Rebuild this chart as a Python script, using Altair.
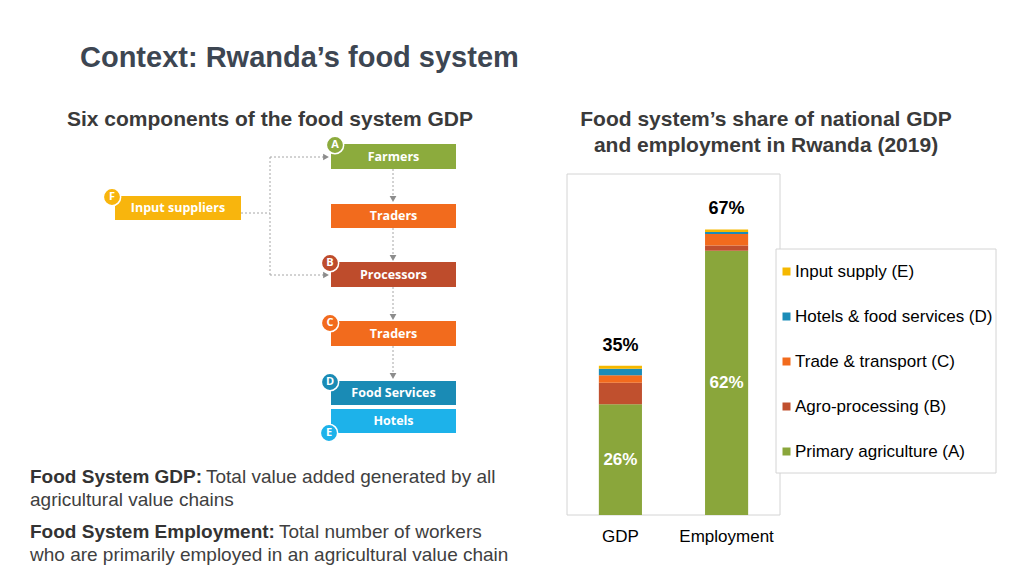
import altair as alt
import pandas as pd

# ---------------- data ----------------
categories = ["GDP", "Employment"]
components = ["Primary agriculture (A)", "Agro-processing (B)", "Trade & transport (C)",
              "Hotels & food services (D)", "Input supply (E)"]
gdp_values = [26.0, 5.0, 1.8, 1.5, 0.7]
employment_values = [62.0, 1.2, 2.7, 0.5, 0.6]
total_labels = ["35%", "67%"]
primary_labels = ["26%", "62%"]
component_colors = ["#8aa63b", "#c0502e", "#f26b1d", "#1b8cb8", "#f5b800"]

flow_names = ["Farmers", "Traders", "Processors", "Traders", "Food Services", "Hotels", "Input suppliers"]
flow_letters = ["A", "", "B", "C", "D", "E", "F"]
flow_colors = ["#8cab3d", "#f26b1d", "#be4c2c", "#f26b1d", "#1a8bb5", "#1db2ea", "#f8b50d"]

title_text = "Context: Rwanda\u2019s food system"
left_heading = "Six components of the food system GDP"
right_heading = ["Food system\u2019s share of national GDP", "and employment in Rwanda (2019)"]
def_bold = ["Food System GDP:", "Food System Employment:"]
def_rest = ["Total value added generated by all", "Total number of workers"]
def_cont = ["agricultural value chains", "who are primarily employed in an agricultural value chain"]

# ---------------- layout (page pixel coordinates) ----------------
XS = alt.Scale(domain=[8, 1016], range=[0, 1008])
YS = alt.Scale(domain=[8, 568], range=[0, 560])
FONT = "Liberation Sans"

def px(f):
    return alt.X(f, type="quantitative", scale=XS, axis=None)

def py(f):
    return alt.Y(f, type="quantitative", scale=YS, axis=None)

box_x0 = [331, 331, 331, 331, 331, 331, 115]
box_x1 = [456, 456, 456, 456, 456, 456, 241]
box_y0 = [144, 204, 262, 321, 381, 409, 196]
box_y1 = [169, 228, 287, 346, 405, 433, 220]
circ_x = [335, None, 330, 330, 330, 329, 112]
circ_y = [145, None, 263, 323, 382, 433, 197]

boxes = pd.DataFrame({"name": flow_names, "x0": box_x0, "x1": box_x1, "y0": box_y0,
                      "y1": box_y1, "c": flow_colors})
boxes["xm"] = (boxes.x0 + boxes.x1) / 2
boxes["ym"] = (boxes.y0 + boxes.y1) / 2

box_layer = alt.Chart(boxes).mark_rect().encode(
    x=px("x0"), x2="x1", y=py("y0"), y2="y1", color=alt.Color("c:N", scale=None))
box_text = alt.Chart(boxes).mark_text(font="Open Sans", fontWeight="bold", fontSize=12.5,
                                      color="white", baseline="middle").encode(
    x=px("xm"), y=py("ym"), text="name:N")

circ = pd.DataFrame({"l": flow_letters, "x": circ_x, "y": circ_y, "c": flow_colors}).dropna()
circ_layer = alt.Chart(circ).mark_point(shape="circle", filled=True, size=300, stroke="white",
                                        strokeWidth=1.5, opacity=1).encode(
    x=px("x"), y=py("y"), fill=alt.Fill("c:N", scale=None))
circ_text = alt.Chart(circ).mark_text(font="Open Sans", fontWeight="bold", fontSize=11,
                                      color="white", baseline="middle").encode(
    x=px("x"), y=py("y"), text="l:N")

# connectors
rules = pd.DataFrame({
    "x0": [393, 393, 393, 393, 241, 270, 270, 270],
    "x1": [393, 393, 393, 393, 270, 270, 324, 324],
    "y0": [169, 228, 287, 346, 213, 157, 157, 275],
    "y1": [198, 257, 316, 375, 213, 275, 157, 275],
})
rule_layer = alt.Chart(rules).mark_rule(color="#a6a6a6", strokeDash=[2, 2], strokeWidth=1).encode(
    x=px("x0"), x2="x1", y=py("y0"), y2="y1")
down_arrows = alt.Chart(pd.DataFrame({"x": [393, 393, 393, 393], "y": [199, 258, 317, 376]})).mark_point(
    shape="triangle-down", filled=True, size=45, color="#8c8c8c", opacity=1).encode(x=px("x"), y=py("y"))
right_arrows = alt.Chart(pd.DataFrame({"x": [326, 326], "y": [157, 275]})).mark_point(
    shape="triangle-right", filled=True, size=45, color="#8c8c8c", opacity=1).encode(x=px("x"), y=py("y"))

# frames
frames = pd.DataFrame({"x0": [567, 776], "x1": [780, 996], "y0": [174, 249], "y1": [515, 473]})
frame_layer = alt.Chart(frames).mark_rect(fill="white", stroke="#d4d4d4", strokeWidth=1).encode(
    x=px("x0"), x2="x1", y=py("y0"), y2="y1")

def text_layer(texts, xs, ys, size, weight="normal", color="#404040", align="left", font=FONT):
    df = pd.DataFrame({"t": texts, "x": xs, "y": ys})
    return alt.Chart(df).mark_text(font=font, fontSize=size, fontWeight=weight, color=color,
                                   align=align, baseline="alphabetic").encode(
        x=px("x"), y=py("y"), text="t:N")

title_layer = text_layer([title_text], [80], [67], 29, "bold", "#3d4652")
heading_l = text_layer([left_heading], [270], [126], 21, "bold", "#3a3a3a", "center")
heading_r = text_layer(right_heading, [766, 766], [126, 152], 21, "bold", "#3a3a3a", "center")
defs_bold = text_layer(def_bold, [30, 30], [483, 538], 19, "bold", "#333333")
defs_rest = text_layer(def_rest, [206, 279], [483, 538], 19, "normal", "#404040")
defs_cont = text_layer(def_cont, [30, 30], [506, 561], 19, "normal", "#404040")

canvas = alt.layer(frame_layer, rule_layer, down_arrows, right_arrows, box_layer, box_text,
                   circ_layer, circ_text, title_layer, heading_l, heading_r,
                   defs_bold, defs_rest, defs_cont)

# ---------------- stacked bar chart ----------------
rows = []
for cat, vals in zip(categories, [gdp_values, employment_values]):
    for i, (comp, v) in enumerate(zip(components, vals)):
        rows.append({"cat": cat, "comp": comp, "value": v, "rank": i})
bars_df = pd.DataFrame(rows)
tot_df = pd.DataFrame({"cat": categories, "total": [sum(gdp_values), sum(employment_values)],
                       "label": total_labels, "primary": [gdp_values[0], employment_values[0]],
                       "plabel": primary_labels})

BX = alt.Scale(domain=categories, range=[559, 772], paddingInner=0.594, paddingOuter=0.30)
BY = alt.Scale(domain=[0, 80], range=[507, 166], nice=False)
legend_order = components[::-1]
color_order = component_colors[::-1]

bar = alt.Chart(bars_df).mark_bar().encode(
    x=alt.X("cat:N", scale=BX, axis=None),
    y=alt.Y("value:Q", stack="zero", scale=BY, axis=None),
    order=alt.Order("rank:Q", sort="ascending"),
    color=alt.Color("comp:N", scale=alt.Scale(domain=legend_order, range=color_order),
                    legend=alt.Legend(orient="none", legendX=770, legendY=255, title=None,
                                      symbolType="square", symbolSize=64, symbolStrokeWidth=0,
                                      labelFontSize=17, labelFont=FONT, labelColor="black",
                                      labelOffset=0, rowPadding=27, padding=0, labelLimit=400)),
)
tot_text = alt.Chart(tot_df).mark_text(font=FONT, fontSize=18, fontWeight="bold", color="black",
                                       baseline="middle", dy=-20).encode(
    x=alt.X("cat:N", scale=BX, axis=None), y=alt.Y("total:Q", scale=BY, axis=None), text="label:N")
prim_text = alt.Chart(tot_df).transform_calculate(mid="datum.primary / 2").mark_text(
    font=FONT, fontSize=17, fontWeight="bold", color="white", baseline="middle").encode(
    x=alt.X("cat:N", scale=BX, axis=None), y=alt.Y("mid:Q", scale=BY, axis=None), text="plabel:N")
cat_text = alt.Chart(tot_df).mark_text(font=FONT, fontSize=17, color="black",
                                       baseline="middle").encode(
    x=alt.X("cat:N", scale=BX, axis=None), y=alt.value(529), text="cat:N")

bars = alt.layer(bar, tot_text, prim_text, cat_text)

chart = alt.layer(canvas, bars).resolve_scale(
    x="independent", y="independent", color="independent"
).properties(width=1008, height=560, padding=0, autosize="none", background="white"
).configure_view(stroke=None)

chart.save("out.html", embed_options={"renderer": "svg", "actions": False})
